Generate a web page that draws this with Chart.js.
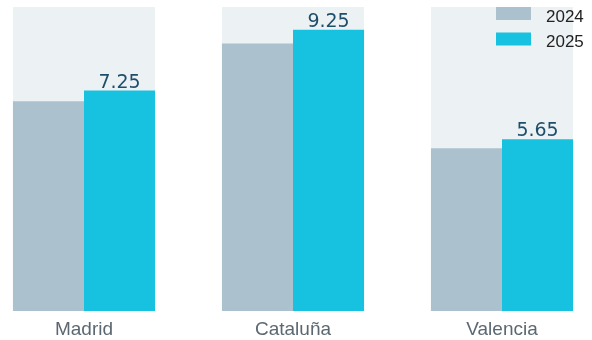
<!DOCTYPE html>
<html>
<head>
<meta charset="utf-8">
<title>Regional comparison</title>
<script src="https://cdn.jsdelivr.net/npm/chart.js@4.4.1/dist/chart.umd.min.js"></script>
<style>
  html, body { margin: 0; padding: 0; background: #ffffff; }
  .chart-container { position: relative; width: 592px; height: 340px; }
</style>
</head>
<body>
<div class="chart-container"><canvas id="regionChart"></canvas></div>
<script>
// values per region
const regions = ['Madrid', 'Cataluña', 'Valencia'];
const values2024 = [6.9, 8.8, 5.35];
const values2025 = [7.25, 9.25, 5.65];
const seriesLabels = ['2024', '2025'];
const yMax = 10;

// full-height track behind each pair of bars
const trackValues = regions.map(() => yMax);

const groupWidth = 0.68;

// value printed above the 2025 bars
const valueLabels = {
  id: 'valueLabels',
  afterDatasetsDraw(chart) {
    const { ctx } = chart;
    const index = chart.data.datasets.findIndex(ds => ds.label === '2025');
    const meta = chart.getDatasetMeta(index);
    ctx.save();
    ctx.font = '19px "DejaVu Sans", sans-serif';
    ctx.fillStyle = '#1d4f6b';
    ctx.textAlign = 'center';
    ctx.textBaseline = 'alphabetic';
    meta.data.forEach((bar, i) => {
      ctx.fillText(chart.data.datasets[index].data[i].toFixed(2), bar.x, bar.y - 3);
    });
    ctx.restore();
  }
};

// small legend in the top right corner
const cornerLegend = {
  id: 'cornerLegend',
  afterDraw(chart) {
    const { ctx } = chart;
    const items = chart.data.datasets.filter(ds => !ds.isTrack);
    const boxW = 35, boxH = 13, rowGap = 25.5;
    const left = chart.width - 96;
    ctx.save();
    ctx.font = '17px "Liberation Sans", Arial, sans-serif';
    ctx.textAlign = 'left';
    ctx.textBaseline = 'alphabetic';
    items.forEach((ds, i) => {
      const top = 7 + i * rowGap;
      ctx.fillStyle = ds.backgroundColor;
      ctx.fillRect(left, top, boxW, boxH);
      ctx.fillStyle = '#222222';
      ctx.fillText(ds.label, left + boxW + 15, top + boxH + 1.5);
    });
    ctx.restore();
  }
};

new Chart(document.getElementById('regionChart'), {
  type: 'bar',
  data: {
    labels: regions,
    datasets: [
      {
        label: 'track',
        isTrack: true,
        data: trackValues,
        grouped: false,
        backgroundColor: '#ecf1f4',
        categoryPercentage: groupWidth,
        barPercentage: 1,
        clip: false,
        order: 1,
      },
      {
        label: seriesLabels[0],
        data: values2024,
        backgroundColor: '#abc2ce',
        categoryPercentage: groupWidth,
        barPercentage: 1,
        clip: false,
        order: 0,
      },
      {
        label: seriesLabels[1],
        data: values2025,
        backgroundColor: '#17c1e0',
        categoryPercentage: groupWidth,
        barPercentage: 1,
        clip: false,
        order: 0,
      },
    ],
  },
  options: {
    responsive: true,
    maintainAspectRatio: false,
    animation: false,
    layout: { padding: { left: 84, right: 90, top: 7, bottom: 0 } },
    plugins: {
      legend: { display: false },
      tooltip: { enabled: false },
    },
    scales: {
      x: {
        offset: false,
        grid: { display: false, drawTicks: false },
        border: { display: false },
        ticks: {
          padding: 9,
          color: '#5b6871',
          font: { family: '"Liberation Sans", Arial, sans-serif', size: 19, lineHeight: 1 },
        },
        afterFit(axis) {
          axis.height = 29;
        },
      },
      y: {
        display: false,
        min: 0,
        max: yMax,
      },
    },
  },
  plugins: [valueLabels, cornerLegend],
});
</script>
</body>
</html>
